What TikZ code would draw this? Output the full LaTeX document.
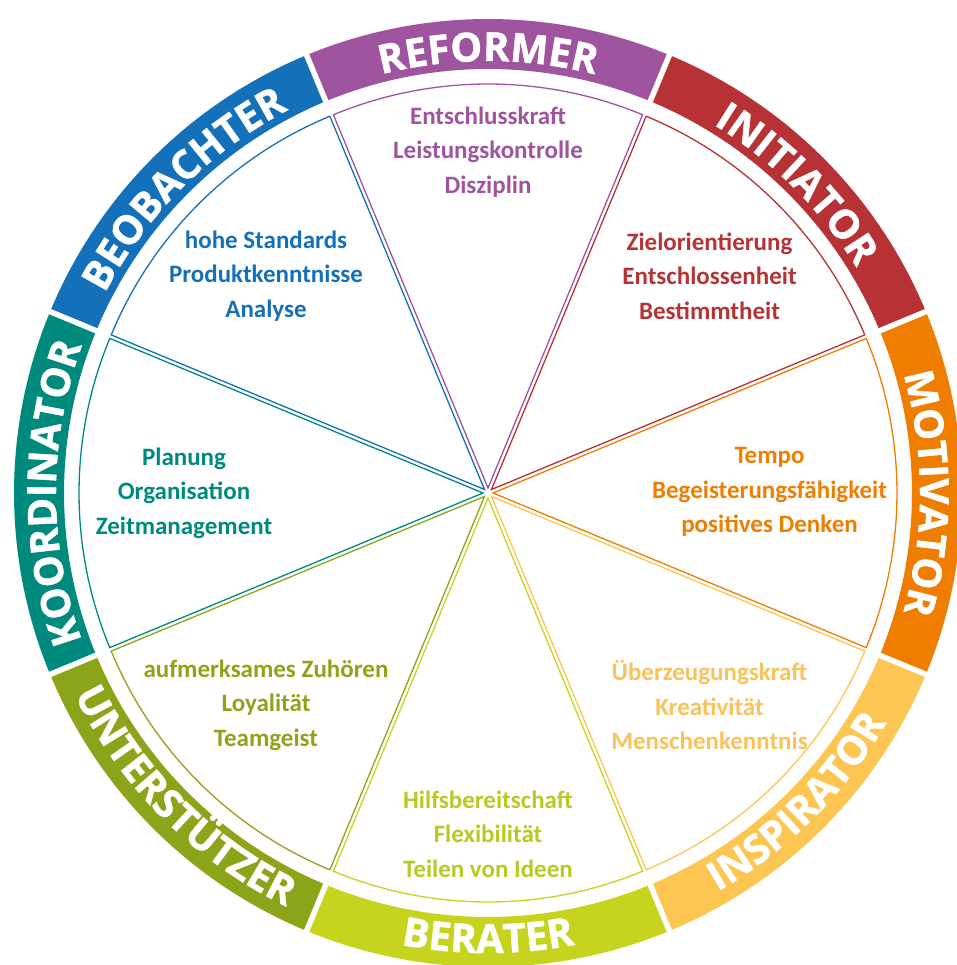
\documentclass[tikz,border=0pt]{standalone}
\usepackage{fontspec}
\newfontfamily\bandfont{Open Sans}[BoldFeatures={FakeBold=1.2}]
\newfontfamily\innerfont{Carlito}
\usetikzlibrary{decorations.text}
\definecolor{cRef}{HTML}{9E549E}
\definecolor{cIni}{HTML}{B63235}
\definecolor{cMot}{HTML}{EF7D00}
\definecolor{cIns}{HTML}{FDC652}
\definecolor{cBer}{HTML}{C7D41F}
\definecolor{cUnt}{HTML}{8BA51B}
\definecolor{cKoo}{HTML}{00897D}
\definecolor{cBeo}{HTML}{1470B9}
\definecolor{tIns}{HTML}{F9C25A}
\definecolor{tBer}{HTML}{B9C824}
\newcommand\bandfmt{\bandfont\bfseries\fontsize{40}{40}\selectfont}
\tikzset{
  bandlabel/.style={decorate,decoration={text along path,text align=center,text color=white,text={|\bandfmt|#1}}},
  slicebox/.style={line width=1.3pt,line join=miter},
  innertext/.style={align=center,font=\innerfont\bfseries\fontsize{25}{34.5}\selectfont}
}
\begin{document}
\begin{tikzpicture}[x=1pt,y=1pt]
\useasboundingbox (-488,-472) rectangle (468,493);
% ring segments
\foreach \a/\c in {90/cRef,45/cIni,0/cMot,-45/cIns,-90/cBer,-135/cUnt,180/cKoo,135/cBeo}{
  \fill[\c] (\a-22.5:424pt) arc[start angle=\a-22.5,end angle=\a+22.5,radius=424pt]
     -- (\a+22.5:474pt) arc[start angle=\a+22.5,end angle=\a-22.5,radius=474pt] -- cycle;
}
\foreach \a in {22.5,67.5,...,337.5}{
  \draw[white,line width=5.5pt] (\a:418pt) -- (\a:485pt);
}
% slices
\foreach \a/\c in {90/cRef,45/cIni,0/cMot,-45/cIns,-90/cBer,-135/cUnt,180/cKoo,135/cBeo}{
  \begin{scope}[shift={(\a:5pt)}]
    \draw[\c,slicebox] (0,0) -- (\a-22.5:404pt) arc[start angle=\a-22.5,end angle=\a+22.5,radius=404pt] -- cycle;
  \end{scope}
}
% ring labels (tops outward)
\path[bandlabel=REFORMER] (114:432pt) arc[start angle=114,end angle=66,radius=432pt];
\path[bandlabel=INITIATOR] (69:432pt) arc[start angle=69,end angle=21,radius=432pt];
\path[bandlabel=MOTIVATOR] (24:432pt) arc[start angle=24,end angle=-24,radius=432pt];
\path[bandlabel=KOORDINATOR] (204:432pt) arc[start angle=204,end angle=156,radius=432pt];
\path[bandlabel=BEOBACHTER] (159:432pt) arc[start angle=159,end angle=111,radius=432pt];
% ring labels (tops inward)
\path[bandlabel=INSPIRATOR] (-69:460pt) arc[start angle=-69,end angle=-21,radius=460pt];
\path[bandlabel=BERATER] (-114:460pt) arc[start angle=-114,end angle=-66,radius=460pt];
\path[bandlabel=UNTERSTÜTZER] (-159:460pt) arc[start angle=-159,end angle=-111,radius=460pt];
% inner texts
\node[innertext,text=cRef] (tref) at (0,341) {Entschlusskraft\\Leistungskontrolle\\Disziplin};
\node[innertext,text=cIni] (tini) at (221.5,217) {Zielorientierung\\Entschlossenheit\\Bestimmtheit};
\node[innertext,text=cMot] (tmot) at (281.5,1) {Tempo\\Begeisterungsfähigkeit\\positives Denken};
\node[innertext,text=tIns] (tins) at (221.5,-212) {Überzeugungskraft\\Kreativität\\Menschenkenntnis};
\node[innertext,text=tBer] (tber) at (0,-341) {Hilfsbereitschaft\\Flexibilität\\Teilen von Ideen};
\node[innertext,text=cUnt] (tunt) at (-222,-212) {aufmerksames Zuhören\\Loyalität\\Teamgeist};
\node[innertext,text=cKoo] (tkoo) at (-304,0) {Planung\\Organisation\\Zeitmanagement};
\node[innertext,text=cBeo] (tbeo) at (-222,217) {hohe Standards\\Produktkenntnisse\\Analyse};
\end{tikzpicture}
\end{document}
